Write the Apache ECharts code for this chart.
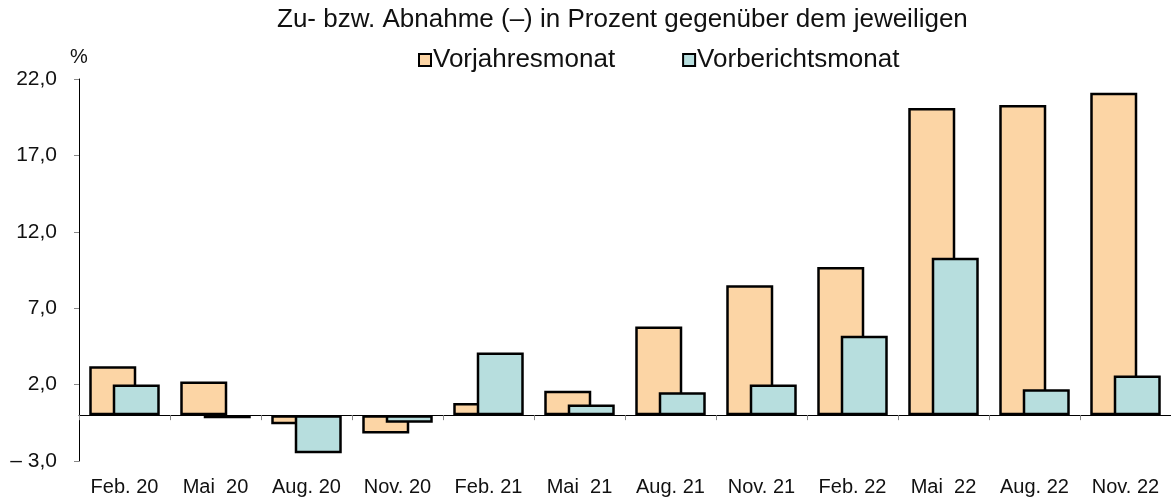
<!DOCTYPE html>
<html>
<head>
<meta charset="utf-8">
<script src="https://cdn.jsdelivr.net/npm/echarts@6/dist/echarts.min.js"></script>
<style>
  html, body { margin: 0; padding: 0; background: #fff; }
  #main { width: 1171px; height: 501px; }
</style>
</head>
<body>
<div id="main"></div>
<script>
var categories = ['Feb. 20', 'Mai  20', 'Aug. 20', 'Nov. 20', 'Feb. 21', 'Mai  21',
  'Aug. 21', 'Nov. 21', 'Feb. 22', 'Mai  22', 'Aug. 22', 'Nov. 22'];
var vorjahresmonat = [3.2, 2.2, -0.6, -1.2, 0.8, 1.6, 5.8, 8.5, 9.7, 20.1, 20.3, 21.1];
var vorberichtsmonat = [2.0, -0.2, -2.5, -0.5, 4.1, 0.7, 1.5, 2.0, 5.2, 10.3, 1.7, 2.6];

var font = 'Liberation Sans, Arial, sans-serif';

function fmt(v) {
  var s = Math.abs(v).toFixed(1).replace('.', ',');
  return v < 0 ? '\u2013 ' + s : s;
}

var myChart = echarts.init(document.getElementById('main'));
var options = {
  backgroundColor: '#fff',
  animation: false,
  title: {
    text: 'Zu- bzw. Abnahme (\u2013) in Prozent gegenüber dem jeweiligen',
    left: 272,
    top: 2,
    textStyle: { fontFamily: font, fontSize: 26, fontWeight: 'normal', color: '#111' }
  },
  legend: {
    left: 413,
    top: 42,
    icon: 'rect',
    itemWidth: 12,
    itemHeight: 12,
    itemGap: 67,
    textStyle: { fontFamily: font, fontSize: 26, color: '#111', padding: [0, 0, 0, -3] },
    data: [
      { name: 'Vorjahresmonat', itemStyle: { borderColor: '#000', borderWidth: 2 } },
      { name: 'Vorberichtsmonat', itemStyle: { borderColor: '#000', borderWidth: 2 } }
    ]
  },
  grid: { left: 79, right: 0, top: 79, bottom: 40, containLabel: false, outerBoundsMode: 'none' },
  xAxis: [
    {
      // axis line with ticks at zero
      type: 'category',
      data: categories,
      axisLine: { onZero: true, lineStyle: { color: '#000', width: 1 } },
      axisTick: { show: true, inside: false, length: 5, lineStyle: { color: '#888' } },
      axisLabel: { show: false },
      splitLine: { show: false }
    },
    {
      // labels at the bottom
      type: 'category',
      data: categories,
      position: 'bottom',
      axisLine: { show: false, onZero: false },
      axisTick: { show: false },
      axisLabel: { margin: 16, fontFamily: font, fontSize: 20, color: '#111', interval: 0 },
      splitLine: { show: false }
    }
  ],
  yAxis: {
    type: 'value',
    min: -3,
    max: 22,
    interval: 5,
    name: '%',
    nameLocation: 'end',
    nameGap: 12,
    nameTextStyle: { fontFamily: font, fontSize: 20, color: '#111', align: 'center' },
    axisLine: { show: true, lineStyle: { color: '#000', width: 1 } },
    axisTick: { show: true, length: 5, lineStyle: { color: '#888' } },
    axisLabel: { margin: 22, fontFamily: font, fontSize: 21, color: '#111', formatter: fmt },
    splitLine: { show: false }
  },
  series: [
    {
      name: 'Vorjahresmonat',
      type: 'bar',
      data: vorjahresmonat,
      barWidth: 47,
      barGap: '-50%',
      itemStyle: { color: '#FCD5A5', borderColor: '#000', borderWidth: 2.5 }
    },
    {
      name: 'Vorberichtsmonat',
      type: 'bar',
      data: vorberichtsmonat,
      barWidth: 47,
      barGap: '-50%',
      itemStyle: { color: '#B7DEDE', borderColor: '#000', borderWidth: 2.5 }
    }
  ]
};
myChart.setOption(options);
</script>
</body>
</html>
